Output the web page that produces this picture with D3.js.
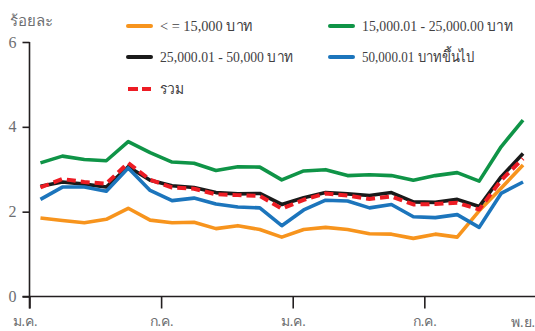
<!DOCTYPE html>
<html>
<head>
<meta charset="utf-8">
<script src="https://cdn.jsdelivr.net/npm/d3@7"></script>
<style>
  html, body { margin: 0; padding: 0; background: #fff; }
  svg { display: block; }
  text { font-family: "Liberation Serif", "DejaVu Serif", serif; }
</style>
</head>
<body>
<svg id="chart" width="535" height="331"></svg>
<script>
// Monthly share (%) by income group, Jan of year 1 to Nov of year 2
const months = ["ม.ค.", "ก.พ.", "มี.ค.", "เม.ย.", "พ.ค.", "มิ.ย.", "ก.ค.", "ส.ค.", "ก.ย.", "ต.ค.", "พ.ย.", "ธ.ค.",
                "ม.ค.", "ก.พ.", "มี.ค.", "เม.ย.", "พ.ค.", "มิ.ย.", "ก.ค.", "ส.ค.", "ก.ย.", "ต.ค.", "พ.ย."];

const seriesNames = ["< = 15,000 บาท", "15,000.01 - 25,000.00 บาท", "25,000.01 - 50,000 บาท", "50,000.01 บาทขึ้นไป", "รวม"];

const upTo15k    = [1.85, 1.79, 1.74, 1.82, 2.08, 1.80, 1.74, 1.75, 1.60, 1.67, 1.58, 1.40, 1.58, 1.63, 1.58, 1.48, 1.47, 1.37, 1.47, 1.40, 2.02, 2.55, 3.10];
const from15to25 = [3.15, 3.31, 3.23, 3.20, 3.65, 3.39, 3.17, 3.14, 2.97, 3.06, 3.05, 2.75, 2.96, 2.99, 2.85, 2.87, 2.85, 2.74, 2.85, 2.92, 2.72, 3.53, 4.16];
const from25to50 = [2.60, 2.70, 2.65, 2.58, 3.06, 2.74, 2.61, 2.57, 2.45, 2.42, 2.43, 2.17, 2.33, 2.45, 2.42, 2.38, 2.45, 2.23, 2.22, 2.29, 2.12, 2.82, 3.37];
const over50k    = [2.29, 2.58, 2.58, 2.48, 3.03, 2.50, 2.26, 2.32, 2.18, 2.11, 2.09, 1.67, 2.04, 2.27, 2.25, 2.09, 2.17, 1.88, 1.86, 1.93, 1.63, 2.43, 2.70];
const total      = [2.57, 2.77, 2.70, 2.66, 3.15, 2.75, 2.57, 2.54, 2.41, 2.39, 2.37, 2.07, 2.28, 2.43, 2.38, 2.30, 2.36, 2.17, 2.18, 2.21, 2.05, 2.74, 3.25];

const yTicks = [0, 2, 4, 6];
const xTickMonths = [0, 6, 12, 18];   // ticks at the start of these months
const yTitle = "ร้อยละ";

const colors = ["#f7941d", "#0f9447", "#1a1a1a", "#1c75bc", "#ed1c24"];
const seriesValues = [upTo15k, from15to25, from25to50, over50k, total];

const svg = d3.select("#chart");
const axisColor = "#231f20";
const labelColor = "#6d6e71";

const x = d3.scaleLinear().domain([0, months.length]).range([29.5, 534]);
const y = d3.scaleLinear().domain([0, 6]).range([296.5, 42]);

// Y axis
const yAxis = svg.append("g")
  .attr("transform", `translate(${x(0)},0)`)
  .call(d3.axisLeft(y).tickValues(yTicks).tickSize(7).tickPadding(6).tickFormat(d3.format("d")));
yAxis.select(".domain").attr("stroke", axisColor).attr("stroke-width", 1.6).attr("d", `M0,${y(6)}V${y(0) + 12}`);
yAxis.selectAll(".tick line").attr("stroke", axisColor).attr("stroke-width", 1.6);
yAxis.selectAll(".tick text").attr("fill", labelColor).attr("font-size", 16)
  .attr("font-family", "Liberation Serif, serif");

// X axis
const xAxis = svg.append("g")
  .attr("transform", `translate(0,${y(0)})`)
  .call(d3.axisBottom(x).tickValues(xTickMonths).tickSize(12).tickPadding(8)
    .tickFormat(d => months[d]));
xAxis.select(".domain").attr("stroke", axisColor).attr("stroke-width", 1.6)
  .attr("d", `M${x(0) - 7},0H535`);
xAxis.selectAll(".tick line").attr("stroke", axisColor).attr("stroke-width", 1.6);
xAxis.selectAll(".tick text").attr("fill", labelColor).attr("font-size", 14);
xAxis.select(".tick text").attr("dx", -5);

// Last month label, centred on its month
svg.append("text")
  .attr("x", x(months.length - 0.5))
  .attr("y", y(0) + 30)
  .attr("text-anchor", "middle")
  .attr("fill", labelColor).attr("font-size", 14)
  .text(months[months.length - 1]);

// Axis title
svg.append("text")
  .attr("x", 10).attr("y", 26)
  .attr("fill", labelColor).attr("font-size", 15)
  .text(yTitle);

// Lines
const line = d3.line()
  .x((d, i) => x(i + 0.5))
  .y(d => y(d));

seriesValues.forEach((vals, k) => {
  const isTotal = k === 4;
  svg.append("path")
    .datum(vals)
    .attr("fill", "none")
    .attr("stroke", colors[k])
    .attr("stroke-width", isTotal ? 4 : 3.6)
    .attr("stroke-linejoin", "round")
    .attr("stroke-dasharray", isTotal ? "9,5" : null)
    .attr("d", line);
});

// Legend: swatch position and text run length per entry
const legendPos = [[127, 26], [329, 26], [127, 57], [329, 57], [127, 89]];
const legendTextLen = [93, 151, 133, 113, 24];
seriesNames.forEach((name, k) => {
  const [lx, ly] = legendPos[k];
  const g = svg.append("g").attr("transform", `translate(${lx},${ly})`);
  if (k === 4) {
    g.append("line").attr("x1", 1).attr("x2", 24).attr("y1", 0).attr("y2", 0)
      .attr("stroke", colors[k]).attr("stroke-width", 4).attr("stroke-dasharray", "10,4");
  } else {
    g.append("line").attr("x1", 1).attr("x2", 24).attr("y1", 0).attr("y2", 0)
      .attr("stroke", colors[k]).attr("stroke-width", 4).attr("stroke-linecap", "round");
  }
  g.append("text").attr("x", 33).attr("y", 5)
    .attr("fill", "#414042").attr("font-size", 15)
    .attr("textLength", legendTextLen[k])
    .attr("lengthAdjust", "spacingAndGlyphs")
    .text(name);
});
</script>
</body>
</html>
